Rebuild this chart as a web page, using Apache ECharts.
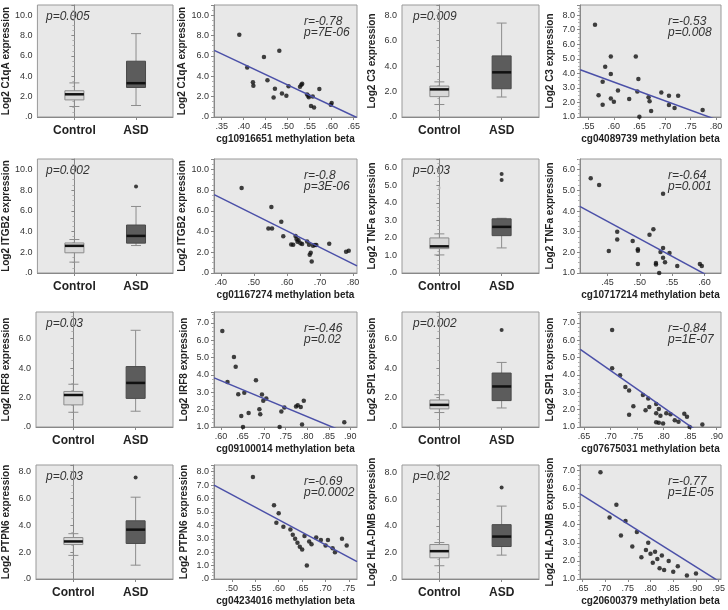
<!DOCTYPE html>
<html lang="en">
<head>
<meta charset="UTF-8">
<title>Expression vs methylation</title>
<script src="https://cdn.jsdelivr.net/npm/echarts@6.0.0/dist/echarts.min.js"></script>
<style>
  html, body { margin: 0; padding: 0; background: #fff; }
  #chart { width: 728px; height: 610px; }
</style>
</head>
<body>
<div id="chart"></div>
<script>
var groups = ['Control', 'ASD'];

// box stats are [min, Q1, median, Q3, max]
var c1qaControl = [1.03, 1.68, 2.23, 2.58, 3.35];
var c1qaASD = [1.13, 2.90, 3.32, 5.48, 8.19];
var c1qaBeta = [.390, .408, .421, .422, .446, .454, .471, .468, .481, .487, .497, .502, .528, .531, .533, .544, .547, .548, .553, .560, .557, .572, .598, .600];
var c1qaExpr = [8.08, 4.85, 3.42, 3.06, 5.90, 3.62, 2.77, 1.92, 6.51, 2.31, 2.08, 3.03, 2.96, 3.16, 3.26, 2.21, 2.08, 1.95, 1.07, 0.94, 2.02, 2.74, 1.21, 1.37];
var c1qaFit = [[.333, .657], [6.55, -0.05]];

var c3Control = [0.98, 1.60, 2.17, 2.43, 2.76];
var c3ASD = [1.57, 2.22, 3.51, 4.80, 7.38];
var c3Beta = [.563, .570, .578, .578, .583, .594, .594, .594, .600, .608, .630, .643, .648, .646, .650, .668, .670, .673, .693, .708, .708, .719, .726, .774];
var c3Expr = [7.34, 2.49, 3.43, 1.85, 4.46, 5.16, 3.95, 2.28, 2.05, 2.83, 2.24, 5.16, 3.61, 2.76, 1.02, 2.35, 2.08, 1.41, 2.69, 2.46, 1.82, 1.62, 2.46, 1.48];
var c3Fit = [[.534, .810], [4.25, 0.70]];

var itgb2Control = [1.05, 1.95, 2.62, 2.90, 3.23];
var itgb2ASD = [2.65, 2.88, 3.58, 4.63, 6.42];
var itgb2Outliers = [8.34];
var itgb2Beta = [.463, .553, .544, .555, .583, .589, .613, .619, .626, .629, .632, .635, .641, .646, .661, .667, .669, .672, .675, .679, .685, .689, .728, .779, .787];
var itgb2Expr = [8.21, 6.36, 4.29, 4.29, 4.94, 3.54, 2.76, 2.73, 3.57, 3.28, 3.02, 3.15, 2.86, 2.79, 3.05, 2.73, 1.75, 1.95, 1.10, 2.63, 2.69, 2.69, 2.82, 2.05, 2.14];
var itgb2Fit = [[.380, .812], [7.56, 0.68]];

var tnfaControl = [1.03, 1.39, 1.52, 2.00, 2.23];
var tnfaASD = [1.43, 2.13, 2.63, 3.09, 3.12];
var tnfaOutliers = [5.64, 5.30];
var tnfaControlFaint = [4.86];
var tnfaBeta = [.424, .437, .452, .465, .465, .489, .497, .497, .497, .515, .521, .525, .525, .530, .532, .536, .536, .536, .539, .546, .558, .593, .596];
var tnfaExpr = [5.59, 5.26, 2.07, 3.00, 2.62, 2.55, 2.15, 2.08, 1.43, 2.85, 3.12, 1.48, 1.41, 1.00, 2.02, 2.21, 1.74, 4.84, 1.52, 1.97, 1.34, 1.44, 1.34];
var tnfaFit = [[.407, .626], [4.23, 0.52]];

var irf8Control = [1.00, 1.50, 2.17, 2.41, 2.90];
var irf8ASD = [1.07, 1.94, 2.99, 4.10, 6.56];
var irf8Beta = [.603, .615, .630, .634, .640, .654, .647, .651, .664, .681, .689, .691, .695, .698, .705, .736, .740, .747, .774, .778, .785, .792, .788, .886];
var irf8Expr = [6.53, 3.60, 5.04, 4.48, 2.89, 2.97, 1.63, 1.00, 1.81, 3.70, 2.02, 1.73, 2.87, 2.52, 2.65, 1.00, 1.89, 2.12, 2.18, 2.26, 2.16, 2.52, 1.14, 1.28];
var irf8Fit = [[.584, .916], [3.83, 0.40]];

var spi1Control = [0.98, 1.23, 1.50, 1.83, 2.19];
var spi1ASD = [1.29, 1.79, 2.75, 3.66, 4.38];
var spi1Outliers = [6.58];
var spi1Beta = [.703, .703, .718, .728, .735, .735, .743, .761, .766, .771, .773, .786, .786, .786, .791, .791, .794, .799, .805, .813, .821, .828, .839, .844, .849, .873];
var spi1Expr = [6.59, 4.39, 3.99, 3.30, 3.11, 1.71, 2.20, 2.85, 1.96, 2.65, 2.16, 2.32, 1.79, 1.28, 1.24, 2.04, 1.65, 1.20, 1.79, 1.73, 1.39, 1.30, 1.77, 1.59, 1.00, 1.14];
var spi1Fit = [[.643, .908], [5.47, -0.19]];

var ptpn6Control = [1.76, 2.57, 2.80, 3.09, 3.38];
var ptpn6ASD = [1.03, 2.65, 3.68, 4.34, 6.10];
var ptpn6Outliers = [7.57];
var ptpn6Beta = [.545, .590, .595, .600, .610, .625, .630, .635, .640, .645, .650, .655, .660, .665, .670, .680, .690, .700, .705, .715, .720, .735, .745];
var ptpn6Expr = [7.60, 5.50, 4.20, 4.90, 3.90, 3.70, 3.30, 3.00, 2.70, 2.40, 2.20, 3.20, 1.00, 2.80, 2.60, 3.10, 2.90, 2.50, 2.90, 2.30, 2.00, 3.00, 2.50];
var ptpn6Fit = [[.462, .767], [7.00, 1.30]];

var hladmbControl = [1.00, 1.60, 2.10, 2.60, 2.75];
var hladmbASD = [1.80, 2.45, 3.20, 4.10, 5.50];
var hladmbOutliers = [6.90];
var hladmbBeta = [.690, .710, .725, .735, .745, .760, .770, .780, .790, .795, .800, .805, .810, .815, .820, .825, .830, .840, .850, .860, .880, .900];
var hladmbExpr = [6.90, 4.40, 5.10, 3.40, 4.20, 2.80, 3.60, 2.20, 2.60, 3.00, 2.40, 1.90, 2.50, 2.10, 1.60, 2.30, 1.50, 2.00, 1.40, 1.70, 1.20, 1.30];
var hladmbFit = [[.645, .955], [5.70, 0.80]];

var FONT = "'Liberation Sans', Arial, sans-serif";
var colLeft = [35, 214, 402, 580], colRight = [173, 357, 539, 721];
var rowTop = [5, 159, 312, 465], rowBottom = [117, 273, 427, 579];

var boxPanels = [
  { row: 0, col: 0, gene: 'C1qA', control: c1qaControl, asd: c1qaASD, out: [], faint: [], max: 11, step: 2, p: 'p=0.005' },
  { row: 0, col: 2, gene: 'C3', control: c3Control, asd: c3ASD, out: [], faint: [], max: 8.8, step: 2, p: 'p=0.009' },
  { row: 1, col: 0, gene: 'ITGB2', control: itgb2Control, asd: itgb2ASD, out: itgb2Outliers, faint: [], max: 11, step: 2, p: 'p=0.002' },
  { row: 1, col: 2, gene: 'TNFa', control: tnfaControl, asd: tnfaASD, out: tnfaOutliers, faint: tnfaControlFaint, max: 6.5, step: 1, p: 'p=0.03' },
  { row: 2, col: 0, gene: 'IRF8', control: irf8Control, asd: irf8ASD, out: [], faint: [], max: 7.8, step: 2, p: 'p=0.03' },
  { row: 2, col: 2, gene: 'SPI1', control: spi1Control, asd: spi1ASD, out: spi1Outliers, faint: [], max: 7.8, step: 2, p: 'p=0.002' },
  { row: 3, col: 0, gene: 'PTPN6', control: ptpn6Control, asd: ptpn6ASD, out: ptpn6Outliers, faint: [], max: 8.5, step: 2, p: 'p=0.03' },
  { row: 3, col: 2, gene: 'HLA-DMB', control: hladmbControl, asd: hladmbASD, out: hladmbOutliers, faint: [], max: 8.6, step: 2, p: 'p=0.02' }
];

var scatterPanels = [
  { row: 0, col: 1, gene: 'C1qA', probe: 'cg10916651', x: c1qaBeta, y: c1qaExpr, fit: c1qaFit, xr: [.3325, .6576], xt: [.35, .40, .45, .50, .55, .60, .65], ymin: 0, max: 11, step: 2, r: 'r=-0.78', p: 'p=7E-06' },
  { row: 0, col: 3, gene: 'C3', probe: 'cg04089739', x: c3Beta, y: c3Expr, fit: c3Fit, xr: [.5336, .81], xt: [.55, .60, .65, .70, .75, .80], ymin: 1, max: 8.7, step: 1, r: 'r=-0.53', p: 'p=0.008' },
  { row: 1, col: 1, gene: 'ITGB2', probe: 'cg01167274', x: itgb2Beta, y: itgb2Expr, fit: itgb2Fit, xr: [.3795, .812], xt: [.40, .50, .60, .70, .80], ymin: 0, max: 11, step: 2, r: 'r=-0.8', p: 'p=3E-06' },
  { row: 1, col: 3, gene: 'TNFa', probe: 'cg10717214', x: tnfaBeta, y: tnfaExpr, fit: tnfaFit, xr: [.4074, .6257], xt: [.45, .50, .55, .60], ymin: 1, max: 6.52, step: 1, r: 'r=-0.64', p: 'p=0.001' },
  { row: 2, col: 1, gene: 'IRF8', probe: 'cg09100014', x: irf8Beta, y: irf8Expr, fit: irf8Fit, xr: [.5837, .9155], xt: [.60, .65, .70, .75, .80, .85, .90], ymin: 1, max: 7.63, step: 1, r: 'r=-0.46', p: 'p=0.02' },
  { row: 2, col: 3, gene: 'SPI1', probe: 'cg07675031', x: spi1Beta, y: spi1Expr, fit: spi1Fit, xr: [.6425, .9081], xt: [.65, .70, .75, .80, .85, .90], ymin: 1, max: 7.63, step: 1, r: 'r=-0.84', p: 'p=1E-07' },
  { row: 3, col: 1, gene: 'PTPN6', probe: 'cg04234016', x: ptpn6Beta, y: ptpn6Expr, fit: ptpn6Fit, xr: [.462, .767], xt: [.50, .55, .60, .65, .70, .75], ymin: 0, max: 8.5, step: 1, r: 'r=-0.69', p: 'p=0.0002' },
  { row: 3, col: 3, gene: 'HLA-DMB', probe: 'cg20600379', x: hladmbBeta, y: hladmbExpr, fit: hladmbFit, xr: [.645, .955], xt: [.65, .70, .75, .80, .85, .90, .95], ymin: 1, max: 7.3, step: 1, r: 'r=-0.77', p: 'p=1E-05' }
];

function yLabel(step) {
  return function (v) {
    if (Math.abs(v / step - Math.round(v / step)) > 1e-6) return '';
    return v.toFixed(1).replace(/^0\./, '.');
  };
}
function xLabel(v) { return v.toFixed(2).replace(/^0\./, '.'); }

function gridFor(row, col) {
  return {
    left: colLeft[col], top: rowTop[row],
    width: colRight[col] - colLeft[col], height: rowBottom[row] - rowTop[row],
    show: true, backgroundColor: '#e8e8e8', borderColor: '#999', borderWidth: 1
  };
}

function yAxisFor(gi, gene, min, max, step) {
  return {
    type: 'value', gridIndex: gi, min: min, max: max, interval: step,
    name: 'Log2 ' + gene + ' expression', nameLocation: 'middle', nameGap: 25,
    nameTextStyle: { fontFamily: FONT, fontWeight: 'bold', fontSize: 10, color: '#222' },
    axisLine: { show: true, lineStyle: { color: '#888' } },
    axisTick: { show: true, length: 3, lineStyle: { color: '#888' } },
    minorTick: { show: true, splitNumber: 4, length: 2, lineStyle: { color: '#b0b0b0' } },
    splitLine: { show: false },
    axisLabel: { fontFamily: FONT, fontSize: 9, color: '#333', margin: 5, formatter: yLabel(step) }
  };
}

function renderBox(params, api) {
  var cat = api.value(0);
  var lo = api.coord([cat, api.value(1)]);
  var q1 = api.coord([cat, api.value(2)]);
  var md = api.coord([cat, api.value(3)]);
  var q3 = api.coord([cat, api.value(4)]);
  var hi = api.coord([cat, api.value(5)]);
  var cx = lo[0], bw = 19, cw = 10;
  var wk = { stroke: '#8c8c8c', lineWidth: 1 };
  return {
    type: 'group',
    children: [
      { type: 'line', shape: { x1: cx, y1: hi[1], x2: cx, y2: q3[1] }, style: wk },
      { type: 'line', shape: { x1: cx, y1: q1[1], x2: cx, y2: lo[1] }, style: wk },
      { type: 'line', shape: { x1: cx - cw / 2, y1: hi[1], x2: cx + cw / 2, y2: hi[1] }, style: wk },
      { type: 'line', shape: { x1: cx - cw / 2, y1: lo[1], x2: cx + cw / 2, y2: lo[1] }, style: wk },
      { type: 'rect', shape: { x: cx - bw / 2, y: q3[1], width: bw, height: q1[1] - q3[1] },
        style: { fill: cat === 0 ? '#d8d8d8' : '#5c5c5c', stroke: cat === 0 ? '#8c8c8c' : '#4a4a4a', lineWidth: 1 } },
      { type: 'line', shape: { x1: cx - bw / 2, y1: md[1], x2: cx + bw / 2, y2: md[1] }, style: { stroke: '#111', lineWidth: 2.5 } }
    ]
  };
}

var option = { animation: false, grid: [], xAxis: [], yAxis: [], series: [], graphic: [] };
var textStyle = { fontFamily: FONT, fontSize: 12, fontStyle: 'italic', fill: '#333', textVerticalAlign: 'middle' };

boxPanels.forEach(function (b) {
  var gi = option.grid.length;
  option.grid.push(gridFor(b.row, b.col));
  option.xAxis.push({
    type: 'value', gridIndex: gi, min: -0.6, max: 1.6,
    axisLine: { show: true, lineStyle: { color: '#888' } },
    axisTick: { show: true, length: 3, customValues: [0, 1], lineStyle: { color: '#888' } },
    splitLine: { show: false },
    axisLabel: { customValues: [0, 1], formatter: function (v) { return groups[Math.round(v)]; },
      fontFamily: FONT, fontSize: 12, fontWeight: 'bold', color: '#222', margin: 8 }
  });
  option.yAxis.push(yAxisFor(gi, b.gene, 0, b.max, b.step));
  option.series.push({
    type: 'custom', xAxisIndex: gi, yAxisIndex: gi, renderItem: renderBox,
    encode: { x: 0, y: [1, 2, 3, 4, 5] },
    data: [[0].concat(b.control), [1].concat(b.asd)]
  });
  option.series.push({
    type: 'scatter', xAxisIndex: gi, yAxisIndex: gi, symbolSize: 4,
    itemStyle: { color: '#111' },
    data: b.out.map(function (v) { return [1, v]; })
  });
  option.series.push({
    type: 'scatter', xAxisIndex: gi, yAxisIndex: gi, symbolSize: 3,
    itemStyle: { color: '#c4c4c4' },
    data: b.faint.map(function (v) { return [0, v]; })
  });
  option.graphic.push({
    type: 'text', left: colLeft[b.col] + 11, top: rowTop[b.row] + 6,
    style: Object.assign({ text: b.p }, textStyle)
  });
});

scatterPanels.forEach(function (s) {
  var gi = option.grid.length;
  option.grid.push(gridFor(s.row, s.col));
  option.xAxis.push({
    type: 'value', gridIndex: gi, min: s.xr[0], max: s.xr[1],
    name: s.probe + ' methylation beta', nameLocation: 'middle', nameGap: 17,
    nameTextStyle: { fontFamily: FONT, fontWeight: 'bold', fontSize: 10, color: '#222' },
    axisLine: { show: true, lineStyle: { color: '#888' } },
    axisTick: { show: true, length: 3, customValues: s.xt, lineStyle: { color: '#888' } },
    splitLine: { show: false },
    axisLabel: { customValues: s.xt, formatter: xLabel, fontFamily: FONT, fontSize: 9, color: '#333', margin: 5 }
  });
  option.yAxis.push(yAxisFor(gi, s.gene, s.ymin, s.max, s.step));
  option.series.push({
    type: 'scatter', xAxisIndex: gi, yAxisIndex: gi, symbolSize: 4.5,
    itemStyle: { color: '#111' },
    data: s.x.map(function (v, i) { return [v, s.y[i]]; })
  });
  option.series.push({
    type: 'line', xAxisIndex: gi, yAxisIndex: gi, showSymbol: false, clip: true,
    lineStyle: { color: '#4b50a8', width: 1.5 },
    data: [[s.fit[0][0], s.fit[1][0]], [s.fit[0][1], s.fit[1][1]]]
  });
  var tx = colRight[s.col] - 53;
  option.graphic.push({ type: 'text', left: tx, top: rowTop[s.row] + 11, style: Object.assign({ text: s.r }, textStyle) });
  option.graphic.push({ type: 'text', left: tx, top: rowTop[s.row] + 22, style: Object.assign({ text: s.p }, textStyle) });
});

var chart = echarts.init(document.getElementById('chart'));
chart.setOption(option);
</script>
</body>
</html>
